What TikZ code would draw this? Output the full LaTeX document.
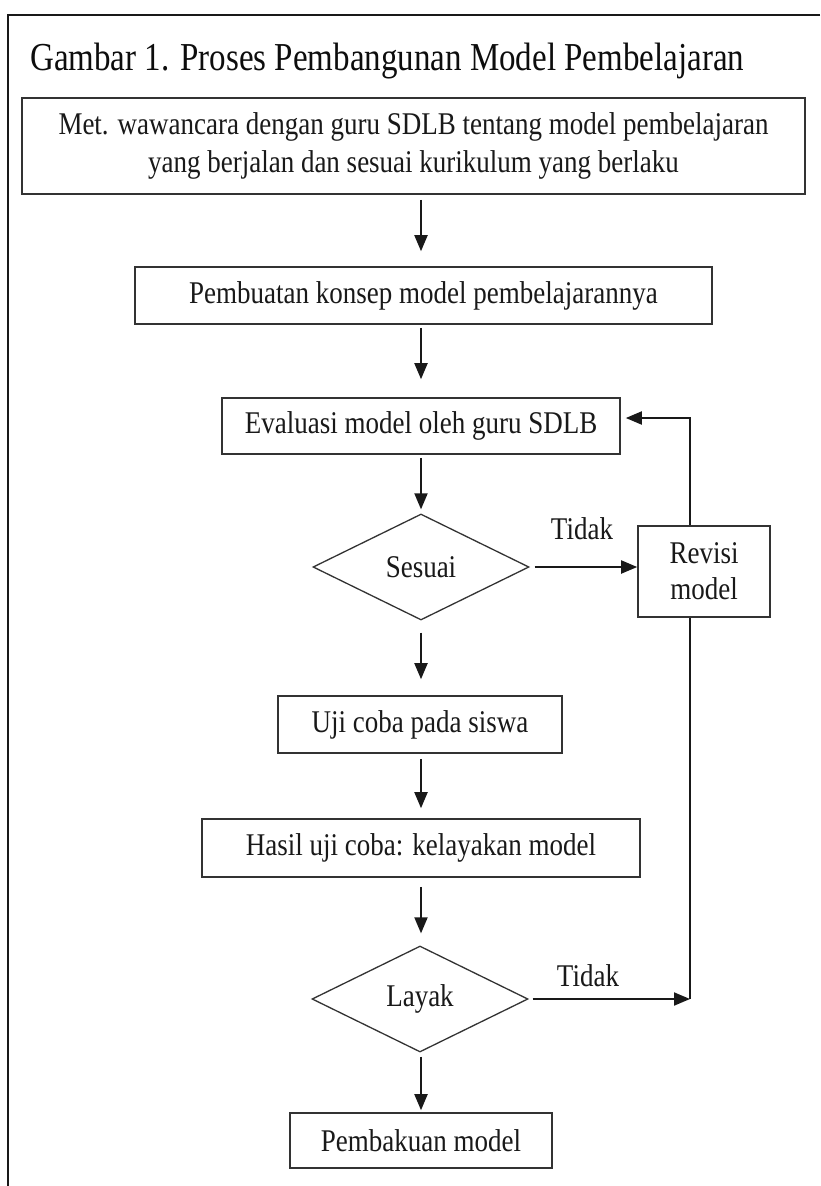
\documentclass[tikz,border=0pt]{standalone}
\usepackage{fontspec}
\setmainfont{Liberation Serif}
\usetikzlibrary{shapes.geometric,arrows.meta}
\newcommand{\tallx}[1]{\scalebox{1}[1.17]{#1}}
\begin{document}
\begin{tikzpicture}[x=1pt,y=-1pt,
  box/.style={draw=black!80, line width=1.6pt, inner sep=0pt, text=black!90,
    font=\fontsize{27}{36}\selectfont, align=center},
  dia/.style={draw=black!80, line width=1.3pt, shape=diamond, inner sep=0pt, text=black!90,
    font=\fontsize{27}{32}\selectfont, minimum width=216pt, minimum height=106pt},
  arr/.style={line width=1.9pt, draw=black!90, -{Triangle[length=16pt,width=13pt]}},
  ln/.style={line width=1.9pt, draw=black!90},
  lbl/.style={inner sep=0pt, text=black!90, font=\fontsize{27}{32}\selectfont},
  frame/.style={line width=2pt, draw=black!90}]
\useasboundingbox (0,0) rectangle (820,1186);
\fill[white] (0,0) rectangle (820,1186);
% outer frame
\coordinate (f1) at (820,15);
\coordinate (f2) at (8,15);
\coordinate (f3) at (8,1186);
\draw[frame] (f1) -- (f2) -- (f3);
% title
\node[anchor=base west, inner sep=0pt, text=black!95, font=\fontsize{33}{40}\selectfont] (title) at (30,70)
  {\scalebox{1}[1.2]{Gambar 1. Proses Pembangunan Model Pembelajaran}};
% boxes
\node[box, minimum width=783pt, minimum height=96pt] (b1) at (413.5,146)
  {\tallx{Met. wawancara dengan guru SDLB tentang model pembelajaran}\\[2pt]\tallx{yang berjalan dan sesuai kurikulum yang berlaku}};
\node[box, minimum width=577pt, minimum height=57pt] (b2) at (423.5,295.5)
  {\tallx{Pembuatan konsep model pembelajarannya}};
\node[box, minimum width=398pt, minimum height=56pt] (b3) at (421,426)
  {\tallx{Evaluasi model oleh guru SDLB}};
\node[dia] (d1) at (421,567) {\tallx{Sesuai}};
\node[box, minimum width=132pt, minimum height=91pt, font=\fontsize{27}{36}\selectfont] (rv) at (704,571.5)
  {\tallx{Revisi}\\\tallx{model}};
\node[box, minimum width=284pt, minimum height=57pt] (b4) at (420,724.5)
  {\tallx{Uji coba pada siswa}};
\node[box, minimum width=438pt, minimum height=58pt] (b5) at (421,848)
  {\tallx{Hasil uji coba: kelayakan model}};
\node[dia] (d2) at (420,999) {\tallx{Layak}};
\node[box, minimum width=262pt, minimum height=55pt] (b6) at (421,1140.5)
  {\tallx{Pembakuan model}};
% labels
\node[lbl] (t1) at (582,529) {\tallx{Tidak}};
\node[lbl] (t2) at (588,976) {\tallx{Tidak}};
% main flow column
\coordinate (ax) at (421,0);
\draw[arr, shorten <=5pt, shorten >=15pt] (b1.south -| ax) -- (b2.north -| ax);
\draw[arr, shorten <=3pt, shorten >=18pt] (b2.south -| ax) -- (b3.north -| ax);
\draw[arr, shorten <=3pt, shorten >=4pt] (b3.south -| ax) -- (d1.north -| ax);
\draw[arr, shorten <=12pt, shorten >=16pt] (d1.south -| ax) -- (b4.north -| ax);
\draw[arr, shorten <=5pt, shorten >=10pt] (b4.south -| ax) -- (b5.north -| ax);
\draw[arr, shorten <=9pt, shorten >=12pt] (b5.south -| ax) -- (d2.north -| ax);
\draw[arr, shorten <=4pt, shorten >=2pt] (d2.south -| ax) -- (b6.north -| ax);
% revision loop
\coordinate (fb) at (690,418);
\coordinate (cr) at (690,999);
\draw[arr, shorten <=5pt] (d1.east) -- (d1.east -| rv.west);
\draw[arr, shorten >=5pt] (rv.north -| fb) -- (fb) -- (fb -| b3.east);
\draw[ln] (rv.south -| cr) -- (cr);
\draw[arr, shorten <=4pt] (d2.east) -- (cr);
\end{tikzpicture}
\end{document}
